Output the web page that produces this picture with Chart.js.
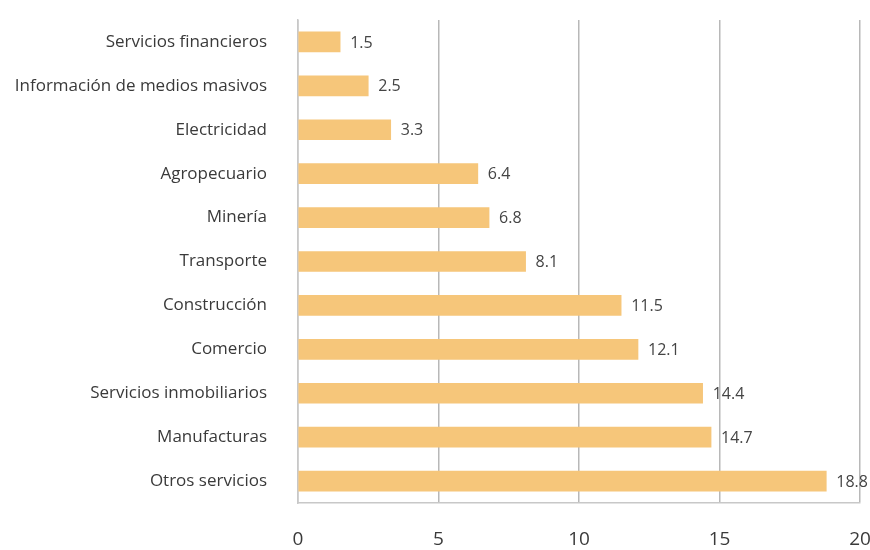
<!DOCTYPE html>
<html>
<head>
<meta charset="utf-8">
<script src="https://cdn.jsdelivr.net/npm/chart.js@4"></script>
<style>
    html, body { margin: 0; padding: 0; background: #ffffff; }
    #wrap { width: 870px; height: 550px; }
</style>
</head>
<body>
<div id="wrap"><canvas id="sector-chart" width="870" height="550"></canvas></div>
<script>
const sectors = [
    'Servicios financieros',
    'Información de medios masivos',
    'Electricidad',
    'Agropecuario',
    'Minería',
    'Transporte',
    'Construcción',
    'Comercio',
    'Servicios inmobiliarios',
    'Manufacturas',
    'Otros servicios',
];
const shares = [1.5, 2.5, 3.3, 6.4, 6.8, 8.1, 11.5, 12.1, 14.4, 14.7, 18.8];
const xTicks = [0, 5, 10, 15, 20];

const fontFamily = '"Open Sans", "Noto Sans", sans-serif';
const textColor = '#3a3a3a';

// writes the value just past the end of every bar
const valueLabels = {
    id: 'valueLabels',
    afterDatasetsDraw(chart) {
        const { ctx } = chart;
        const meta = chart.getDatasetMeta(0);
        ctx.save();
        ctx.font = '16px ' + fontFamily;
        ctx.fillStyle = '#444444';
        ctx.textAlign = 'left';
        ctx.textBaseline = 'middle';
        meta.data.forEach((bar, i) => {
            ctx.fillText(shares[i].toFixed(1), bar.x + 10, bar.y + 1);
        });
        ctx.restore();
    },
};

const noPadding = (scale) => {
    scale.paddingLeft = 0;
    scale.paddingRight = 0;
    scale.paddingTop = 0;
    scale.paddingBottom = 0;
};

new Chart(document.getElementById('sector-chart'), {
    type: 'bar',
    data: {
        labels: sectors,
        datasets: [{
            data: shares,
            backgroundColor: '#f6c67a',
            borderWidth: 0,
            barThickness: 20,
        }],
    },
    options: {
        indexAxis: 'y',
        responsive: false,
        animation: false,
        layout: {
            padding: { top: 20, right: 10, left: 0, bottom: 0 },
        },
        plugins: {
            legend: { display: false },
            tooltip: { enabled: false },
        },
        scales: {
            x: {
                min: 0,
                max: 20,
                afterBuildTicks: (scale) => {
                    scale.ticks = xTicks.map((value) => ({ value }));
                },
                afterFit: (scale) => {
                    scale.height = 47;
                    noPadding(scale);
                },
                grid: {
                    color: '#b8b8b8',
                    lineWidth: 1.5,
                    drawTicks: false,
                },
                border: { display: true, color: '#c8c8c8', width: 1.5 },
                ticks: {
                    padding: 25,
                    color: textColor,
                    font: { family: fontFamily, size: 19 },
                },
            },
            y: {
                afterFit: (scale) => {
                    scale.width = 298;
                    noPadding(scale);
                },
                grid: { display: false, drawTicks: false },
                border: { display: true, color: '#c8c8c8', width: 1.5 },
                ticks: {
                    padding: 31,
                    color: textColor,
                    font: { family: fontFamily, size: 17 },
                },
            },
        },
    },
    plugins: [valueLabels],
});
</script>
</body>
</html>
